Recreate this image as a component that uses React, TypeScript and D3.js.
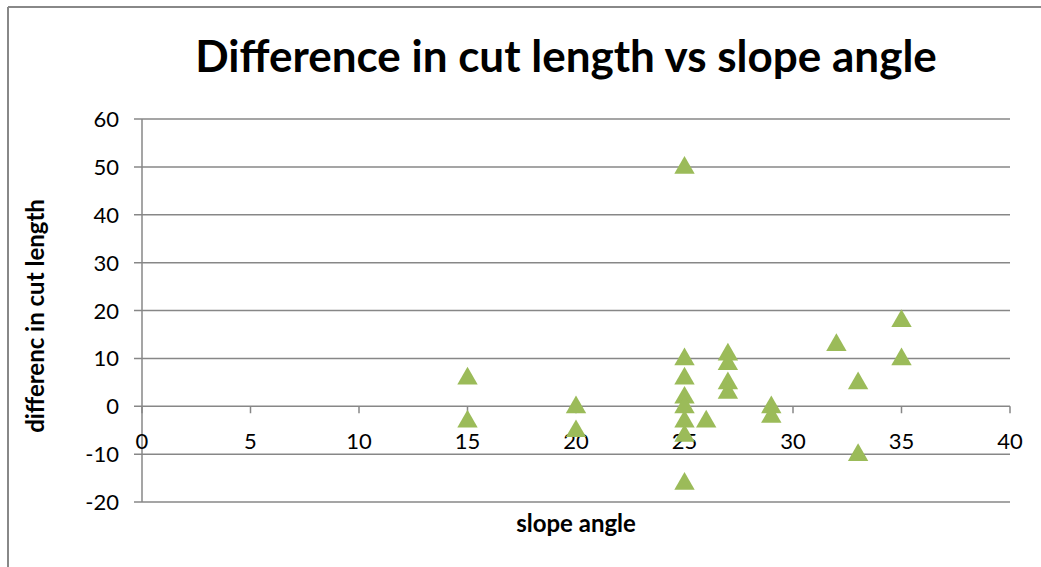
import React from "react";
import * as d3 from "d3";

const slopeAngle = [25, 25, 25, 25, 25, 25, 25, 25, 15, 15, 20, 20, 26, 27, 27, 27, 27, 29, 29, 32, 33, 33, 35, 35];
const cutDiff = [50, 10, 6, 2, 0, -3, -6, -16, 6, -3, 0, -5, -3, 11, 9, 5, 3, 0, -2, 13, 5, -10, 18, 10];
const xTicks = [0, 5, 10, 15, 20, 25, 30, 35, 40];
const yTicks = [-20, -10, 0, 10, 20, 30, 40, 50, 60];

const W = 1041;
const H = 567;
const font = "Lato, 'Open Sans', sans-serif";
const grid = "#878787";
const green = "#9BBB59";

export default function App() {
  const x = d3.scaleLinear().domain([0, 40]).range([142, 1010]);
  const y = d3.scaleLinear().domain([-20, 60]).range([502, 119]);
  const tri = d3.symbol().type(d3.symbolTriangle).size(180);
  const pts = slopeAngle.map((a, i) => ({ a, v: cutDiff[i] }));
  return (
    <svg width={W} height={H} style={{ position: "absolute", left: 0, top: 0 }}>
      <rect x={0} y={0} width={W} height={H} fill="#fff" />
      <line x1={8} y1={7} x2={W} y2={7} stroke="#888" strokeWidth={2} />
      <line x1={8} y1={7} x2={8} y2={H} stroke="#888" strokeWidth={2} />
      <text x={566} y={72} textAnchor="middle" fontFamily={font} fontWeight="bold" fontSize={44} fill="#000">
        Difference in cut length vs slope angle
      </text>
      {yTicks.map((t) => (
        <g key={"y" + t}>
          <line x1={134} x2={x(40)} y1={y(t)} y2={y(t)} stroke={grid} strokeWidth={1.5} />
          <text x={119} y={y(t) + 8} textAnchor="end" fontFamily={font} fontSize={22} fill="#000">
            {t}
          </text>
        </g>
      ))}
      <line x1={x(0)} x2={x(0)} y1={y(60)} y2={y(-20)} stroke={grid} strokeWidth={1.5} />
      {xTicks.map((t) => (
        <g key={"x" + t}>
          <line x1={x(t)} x2={x(t)} y1={y(0)} y2={y(0) + 7} stroke={grid} strokeWidth={1.5} />
          <text x={x(t)} y={449} textAnchor="middle" fontFamily={font} fontSize={22} fill="#000">
            {t}
          </text>
        </g>
      ))}
      {pts.map((p, i) => (
        <path
          key={i}
          d={tri() as string}
          transform={`translate(${x(p.a)},${y(p.v) + 1})`}
          fill={green}
        />
      ))}
      <text x={576} y={532} textAnchor="middle" fontFamily={font} fontWeight="bold" fontSize={24} fill="#000">
        slope angle
      </text>
      <text
        transform={`translate(44,316) rotate(-90)`}
        textAnchor="middle"
        fontFamily={font}
        fontWeight="bold"
        fontSize={24}
        fill="#000"
      >
        differenc in cut length
      </text>
    </svg>
  );
}
